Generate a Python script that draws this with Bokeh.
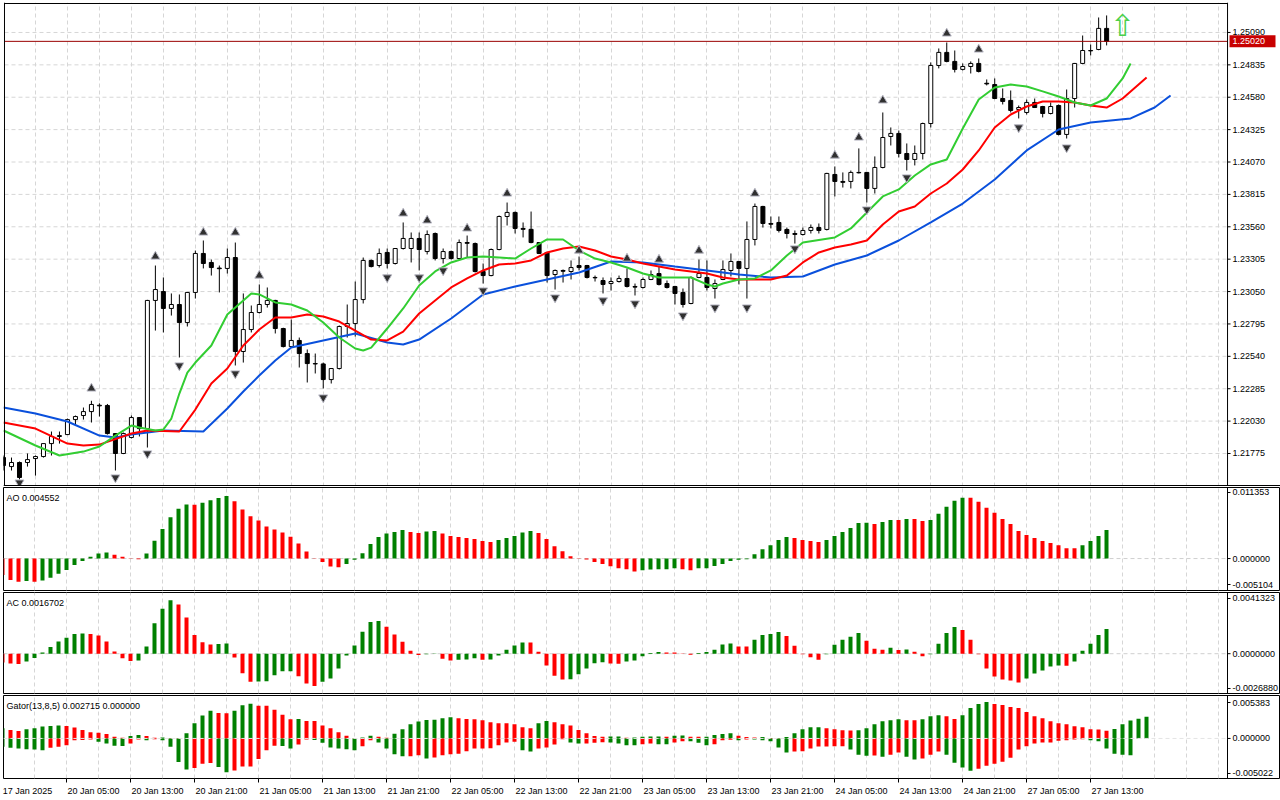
from bokeh.plotting import figure
from bokeh.models import Range1d, FixedTicker, Span, Label, ColumnDataSource, Grid
from bokeh.layouts import column
from bokeh.embed import file_html
from bokeh.resources import INLINE
from bokeh.core.properties import value

# ---------------- data (EURUSD H1) ----------------
opens = [
    1.21743, 1.21672, 1.21704, 1.21704, 1.21735, 1.21751, 1.21853, 1.21909, 1.21924, 1.22042,
    1.22074, 1.22105, 1.22155, 1.22153, 1.21932, 1.21775, 1.21901, 1.22058, 1.21971, 1.22980,
    1.23050, 1.22917, 1.22948, 1.22806, 1.23043, 1.23350, 1.23279, 1.23235, 1.23232, 1.23318,
    1.22578, 1.22751, 1.22885, 1.22948, 1.22980, 1.22759, 1.22617, 1.22665, 1.22562, 1.22483,
    1.22480, 1.22357, 1.22444, 1.22775, 1.22798, 1.22987, 1.23295, 1.23255, 1.23358, 1.23271,
    1.23389, 1.23389, 1.23468, 1.23365, 1.23507, 1.23310, 1.23365, 1.23310, 1.23436, 1.23428,
    1.23208, 1.23176, 1.23381, 1.23641, 1.23673, 1.23547, 1.23540, 1.23436, 1.23358, 1.23184,
    1.23216, 1.23208, 1.23255, 1.23255, 1.23161, 1.23137, 1.23113, 1.23129, 1.23153, 1.23090,
    1.23082, 1.23145, 1.23192, 1.23113, 1.23090, 1.23043, 1.22956, 1.23161, 1.23161, 1.23074,
    1.23145, 1.23216, 1.23287, 1.23232, 1.23460, 1.23720, 1.23586, 1.23594, 1.23539, 1.23507,
    1.23499, 1.23531, 1.23554, 1.23539, 1.23972, 1.23917, 1.23917, 1.23988, 1.23988, 1.23862,
    1.24027, 1.24271, 1.24295, 1.24137, 1.24090, 1.24137, 1.24373, 1.24830, 1.24933, 1.24862,
    1.24799, 1.24822, 1.24846, 1.24690, 1.24680, 1.24570, 1.24555, 1.24484, 1.24460, 1.24539,
    1.24507, 1.24452, 1.24515, 1.24287, 1.24570, 1.24846, 1.24948, 1.24956, 1.25122]
highs = [
    1.21759, 1.21743, 1.21712, 1.21775, 1.21759, 1.21853, 1.21948, 1.21948, 1.22050, 1.22074,
    1.22137, 1.22190, 1.22170, 1.22165, 1.21935, 1.21940, 1.22074, 1.22062, 1.22985, 1.23255,
    1.23161, 1.23035, 1.23027, 1.23045, 1.23373, 1.23452, 1.23302, 1.23255, 1.23389, 1.23436,
    1.23035, 1.22940, 1.23106, 1.23082, 1.22985, 1.22765, 1.22830, 1.22688, 1.22594, 1.22562,
    1.22491, 1.22444, 1.22783, 1.22948, 1.23129, 1.23318, 1.23302, 1.23389, 1.23389, 1.23389,
    1.23594, 1.23515, 1.23515, 1.23531, 1.23515, 1.23389, 1.23373, 1.23460, 1.23491, 1.23436,
    1.23271, 1.23389, 1.23649, 1.23751, 1.23680, 1.23594, 1.23680, 1.23440, 1.23362, 1.23224,
    1.23224, 1.23295, 1.23326, 1.23260, 1.23176, 1.23161, 1.23161, 1.23176, 1.23232, 1.23113,
    1.23161, 1.23216, 1.23247, 1.23137, 1.23095, 1.23074, 1.23169, 1.23302, 1.23295, 1.23145,
    1.23295, 1.23350, 1.23290, 1.23602, 1.23743, 1.23725, 1.23641, 1.23641, 1.23554, 1.23531,
    1.23554, 1.23578, 1.23586, 1.23985, 1.24035, 1.23988, 1.24003, 1.24177, 1.23992, 1.24114,
    1.24460, 1.24342, 1.24318, 1.24216, 1.24200, 1.24380, 1.24854, 1.24964, 1.25011, 1.24948,
    1.24846, 1.24862, 1.24885, 1.24720, 1.24728, 1.24649, 1.24633, 1.24515, 1.24562, 1.24570,
    1.24512, 1.24539, 1.24523, 1.24641, 1.24850, 1.25066, 1.24995, 1.25208, 1.25224]
lows = [
    1.21641, 1.21641, 1.21570, 1.21672, 1.21601, 1.21743, 1.21759, 1.21853, 1.21920, 1.22003,
    1.22042, 1.22019, 1.22066, 1.21924, 1.21641, 1.21770, 1.21893, 1.21909, 1.21822, 1.22743,
    1.22728, 1.22861, 1.22531, 1.22775, 1.22995, 1.23232, 1.23176, 1.23043, 1.23192, 1.22468,
    1.22491, 1.22728, 1.22877, 1.22924, 1.22720, 1.22610, 1.22609, 1.22452, 1.22334, 1.22405,
    1.22287, 1.22326, 1.22436, 1.22688, 1.22696, 1.22956, 1.23240, 1.23239, 1.23232, 1.23263,
    1.23381, 1.23279, 1.23216, 1.23342, 1.23295, 1.23271, 1.23302, 1.23305, 1.23318, 1.23200,
    1.23113, 1.23170, 1.23375, 1.23570, 1.23507, 1.23476, 1.23430, 1.23345, 1.23121, 1.23066,
    1.23121, 1.23145, 1.23216, 1.23153, 1.23129, 1.23035, 1.23058, 1.23121, 1.23082, 1.23019,
    1.23074, 1.23140, 1.23098, 1.23074, 1.22948, 1.22924, 1.22950, 1.23155, 1.23058, 1.22995,
    1.23140, 1.23169, 1.23106, 1.22995, 1.23413, 1.23554, 1.23547, 1.23515, 1.23468, 1.23428,
    1.23491, 1.23507, 1.23507, 1.23531, 1.23799, 1.23869, 1.23862, 1.23980, 1.23751, 1.23822,
    1.24020, 1.24200, 1.24106, 1.24003, 1.24043, 1.24090, 1.24342, 1.24807, 1.24855, 1.24775,
    1.24791, 1.24767, 1.24775, 1.24673, 1.24565, 1.24523, 1.24460, 1.24413, 1.24444, 1.24495,
    1.24421, 1.24445, 1.24280, 1.24255, 1.24499, 1.24840, 1.24909, 1.24950, 1.24988]
closes = [
    1.21680, 1.21704, 1.21586, 1.21727, 1.21751, 1.21853, 1.21909, 1.21916, 1.22042, 1.22066,
    1.22105, 1.22161, 1.22150, 1.21932, 1.21775, 1.21932, 1.22058, 1.21971, 1.22980, 1.23066,
    1.22917, 1.22948, 1.22806, 1.23043, 1.23350, 1.23271, 1.23239, 1.23230, 1.23318, 1.22578,
    1.22751, 1.22885, 1.22948, 1.22980, 1.22759, 1.22617, 1.22665, 1.22562, 1.22483, 1.22480,
    1.22357, 1.22444, 1.22775, 1.22798, 1.22987, 1.23295, 1.23247, 1.23350, 1.23271, 1.23389,
    1.23468, 1.23468, 1.23381, 1.23499, 1.23310, 1.23365, 1.23310, 1.23436, 1.23430, 1.23208,
    1.23176, 1.23381, 1.23641, 1.23673, 1.23547, 1.23540, 1.23436, 1.23350, 1.23176, 1.23216,
    1.23210, 1.23239, 1.23239, 1.23161, 1.23158, 1.23106, 1.23129, 1.23153, 1.23090, 1.23085,
    1.23145, 1.23184, 1.23106, 1.23082, 1.23035, 1.22948, 1.23161, 1.23192, 1.23082, 1.23113,
    1.23224, 1.23287, 1.23232, 1.23460, 1.23720, 1.23586, 1.23580, 1.23531, 1.23507, 1.23500,
    1.23531, 1.23554, 1.23531, 1.23980, 1.23917, 1.23910, 1.23988, 1.23985, 1.23862, 1.24027,
    1.24263, 1.24295, 1.24137, 1.24090, 1.24137, 1.24373, 1.24830, 1.24933, 1.24862, 1.24799,
    1.24822, 1.24846, 1.24783, 1.24685, 1.24570, 1.24547, 1.24476, 1.24499, 1.24539, 1.24499,
    1.24452, 1.24507, 1.24287, 1.24570, 1.24846, 1.24948, 1.24945, 1.25122, 1.25020]

# Alligator (shifted lines, bar index -> price)
jaw_x = [0, 4, 8, 12, 14, 16, 20, 25, 28, 30, 32, 34, 36, 40, 44, 48, 50, 52, 56, 60,
         64, 68, 72, 76, 80, 84, 88, 92, 96, 100, 104, 108, 112, 116, 120, 124, 128, 132, 136, 141,
         144, 146]
jaw_y = [1.22137, 1.22090, 1.22027, 1.21916, 1.21901, 1.21924, 1.21956, 1.21948, 1.22129, 1.22263,
         1.22389, 1.22507, 1.22609, 1.22665, 1.22720, 1.22649, 1.22633, 1.22672, 1.22838, 1.23027,
         1.23090, 1.23145, 1.23200, 1.23287, 1.23279, 1.23247, 1.23216, 1.23184, 1.23161, 1.23169,
         1.23263, 1.23334, 1.23452, 1.23594, 1.23743, 1.23932, 1.24161, 1.24326, 1.24381, 1.24413,
         1.24499, 1.24594]
teeth_x = [0, 4, 8, 10, 12, 16, 18, 22, 24, 26, 28, 30, 32, 34, 36, 38, 40, 42, 44, 46,
           48, 50, 52, 54, 56, 58, 60, 62, 64, 66, 68, 70, 72, 74, 76, 78, 80, 84, 88, 90,
           92, 96, 98, 100, 102, 104, 106, 108, 110, 112, 114, 116, 118, 120, 122, 124, 126, 128, 130, 132,
           134, 136, 138, 140, 143]
teeth_y = [1.22019, 1.21971, 1.21853, 1.21838, 1.21845, 1.21932, 1.21956, 1.21948, 1.22121, 1.22326,
           1.22444, 1.22625, 1.22751, 1.22846, 1.22846, 1.22869, 1.22854, 1.22814, 1.22743, 1.22672,
           1.22665, 1.22735, 1.22877, 1.22980, 1.23082, 1.23153, 1.23216, 1.23263, 1.23271, 1.23295,
           1.23358, 1.23389, 1.23405, 1.23373, 1.23326, 1.23302, 1.23271, 1.23224, 1.23192, 1.23161,
           1.23145, 1.23145, 1.23176, 1.23279, 1.23358, 1.23397, 1.23420, 1.23452, 1.23578, 1.23680,
           1.23720, 1.23822, 1.23901, 1.24011, 1.24161, 1.24342, 1.24444, 1.24507, 1.24547, 1.24547,
           1.24539, 1.24515, 1.24499, 1.24570, 1.24736]
lips_x = [0, 4, 7, 10, 12, 14, 16, 17, 19, 20, 21, 22, 23, 24, 26, 28, 30, 31, 32, 34,
          36, 38, 40, 42, 44, 45, 46, 48, 50, 52, 54, 56, 58, 60, 62, 64, 66, 68, 70, 72,
          74, 76, 78, 80, 82, 86, 88, 89, 90, 92, 94, 96, 98, 100, 104, 106, 108, 110, 112, 114,
          116, 118, 120, 122, 124, 126, 128, 130, 132, 134, 136, 138, 140, 141]
lips_y = [1.21956, 1.21838, 1.21759, 1.21790, 1.21830, 1.21916, 1.21995, 1.21979, 1.21956, 1.21964,
          1.22050, 1.22247, 1.22412, 1.22491, 1.22625, 1.22869, 1.22980, 1.23035, 1.23027, 1.22964,
          1.22948, 1.22901, 1.22806, 1.22688, 1.22602, 1.22586, 1.22609, 1.22759, 1.22917, 1.23098,
          1.23208, 1.23279, 1.23318, 1.23326, 1.23318, 1.23310, 1.23389, 1.23460, 1.23460, 1.23373,
          1.23310, 1.23279, 1.23239, 1.23192, 1.23161, 1.23161, 1.23106, 1.23090, 1.23113, 1.23145,
          1.23153, 1.23216, 1.23334, 1.23436, 1.23476, 1.23547, 1.23673, 1.23799, 1.23854, 1.23964,
          1.24051, 1.24090, 1.24334, 1.24562, 1.24657, 1.24680, 1.24665, 1.24626, 1.24586, 1.24539,
          1.24515, 1.24570, 1.24728, 1.24846]

# Fractals
up_bars = [11, 19, 25, 29, 32, 50, 53, 58, 63, 72, 78, 82, 87, 94, 104, 107, 110, 118, 122]
up_marks = [1.22287, 1.23326, 1.23515, 1.23515, 1.23176, 1.23665, 1.23610, 1.23547, 1.23822, 1.23373,
            1.23310, 1.23302, 1.23373, 1.23822, 1.24121, 1.24263, 1.24555, 1.25082, 1.24956]
dn_bars = [2, 14, 18, 22, 29, 40, 48, 52, 55, 60, 69, 75, 79, 85, 89, 93, 99, 108, 113, 127, 133]
dn_marks = [1.21546, 1.21586, 1.21775, 1.22468, 1.22405, 1.22216, 1.23161, 1.23161, 1.23216, 1.23058,
            1.23003, 1.22980, 1.22956, 1.22861, 1.22924, 1.22924, 1.23389, 1.23696, 1.23948, 1.24342,
            1.24184]
signal_bar = [140]
signal_price = [1.25145]

# Awesome Oscillator
ao = [
    -0.002629, -0.003436, -0.003710, -0.003597, -0.003710, -0.003500, -0.003065, -0.002420, -0.001823, -0.001016,
    -0.000371, 0.000274, 0.000807, 0.000968, 0.000597, 0.000274, 0.000048, -0.000113, 0.000807, 0.002855,
    0.004726, 0.006613, 0.007952, 0.008630, 0.008581, 0.008920, 0.009307, 0.009678, 0.010001, 0.009146,
    0.007855, 0.006775, 0.006081, 0.005113, 0.004629, 0.004145, 0.003500, 0.002420, 0.001129, 0.000048,
    -0.000565, -0.001258, -0.001403, -0.000855, -0.000210, 0.000855, 0.002307, 0.003436, 0.003984, 0.004242,
    0.004565, 0.004242, 0.004081, 0.004307, 0.004403, 0.003984, 0.003597, 0.003436, 0.003274, 0.003113,
    0.002790, 0.002629, 0.002952, 0.003274, 0.003597, 0.004145, 0.004403, 0.004081, 0.003113, 0.001984,
    0.001177, 0.000371, 0.000032, -0.000161, -0.000532, -0.000855, -0.001242, -0.001565, -0.001726, -0.002049,
    -0.001887, -0.001758, -0.001726, -0.001694, -0.001565, -0.001726, -0.001887, -0.001565, -0.001548, -0.001177,
    -0.000855, -0.000371, -0.000210, -0.000097, 0.000694, 0.001500, 0.002145, 0.002952, 0.003436, 0.003274,
    0.002952, 0.002790, 0.002629, 0.002952, 0.003597, 0.004242, 0.004887, 0.005694, 0.005710, 0.005533,
    0.005855, 0.006178, 0.006162, 0.006339, 0.006323, 0.006016, 0.006178, 0.007146, 0.008275, 0.009242,
    0.009726, 0.009710, 0.009081, 0.008113, 0.007307, 0.006339, 0.005533, 0.004403, 0.003758, 0.003274,
    0.002790, 0.002468, 0.002145, 0.001661, 0.001645, 0.002145, 0.002790, 0.003597, 0.004552]
ao_max, ao_min = 0.011353, -0.005104

# Accelerator Oscillator
ac = [
    -0.000601, -0.000668, -0.000701, -0.000534, -0.000287, 0.000087, 0.000448, 0.000828, 0.001069, 0.001336,
    0.001356, 0.001329, 0.001222, 0.000828, 0.000140, -0.000307, -0.000488, -0.000461, 0.000481, 0.002057,
    0.003033, 0.003601, 0.003327, 0.002452, 0.001269, 0.000775, 0.000621, 0.000648, 0.000695, -0.000261,
    -0.001329, -0.001897, -0.001870, -0.001864, -0.001450, -0.001189, -0.001182, -0.001523, -0.002017, -0.002178,
    -0.001890, -0.001670, -0.001002, -0.000114, 0.000554, 0.001490, 0.002138, 0.002204, 0.001824, 0.001289,
    0.000802, 0.000200, -0.000087, -0.000033, -0.000020, -0.000334, -0.000468, -0.000401, -0.000394, -0.000314,
    -0.000401, -0.000394, -0.000114, 0.000267, 0.000554, 0.000755, 0.000748, 0.000134, -0.000802, -0.001490,
    -0.001737, -0.001730, -0.001383, -0.001002, -0.000648, -0.000581, -0.000668, -0.000675, -0.000534, -0.000468,
    -0.000180, 0.000047, 0.000114, 0.000087, 0.000080, 0.000013, -0.000067, 0.000047, 0.000114, 0.000267,
    0.000621, 0.000681, 0.000488, 0.000481, 0.000935, 0.001269, 0.001336, 0.001470, 0.001202, 0.000534,
    -0.000033, -0.000247, -0.000401, -0.000033, 0.000601, 0.000935, 0.001136, 0.001403, 0.000868, 0.000334,
    0.000267, 0.000401, 0.000254, 0.000281, 0.000134, -0.000180, -0.000033, 0.000668, 0.001403, 0.001804,
    0.001603, 0.000935, -0.000033, -0.001002, -0.001536, -0.001737, -0.001804, -0.001937, -0.001670, -0.001336,
    -0.001136, -0.000868, -0.000802, -0.000808, -0.000534, 0.000200, 0.000668, 0.001269, 0.0016702]
ac_max, ac_min = 0.0041323, -0.0026880

# Gator oscillator (upper = |jaw-teeth|, lower = -|teeth-lips|)
gator_up = [
    0.001270, 0.001054, 0.000927, 0.001143, 0.001270, 0.001486, 0.001562, 0.001613, 0.001562, 0.001359,
    0.001054, 0.000762, 0.000724, 0.000546, 0.000216, 0.000089, 0.000292, 0.000419, 0.000292, 0.000089,
    0.000127, 0.000038, 0.000013, 0.000635, 0.001905, 0.002883, 0.003467, 0.003175, 0.003162, 0.003467,
    0.004153, 0.004356, 0.004102, 0.004089, 0.003594, 0.002959, 0.002413, 0.002426, 0.002197, 0.002184,
    0.001613, 0.001270, 0.000762, 0.000343, 0.000025, 0.000127, 0.000343, 0.000216, 0.000089, 0.000597,
    0.001143, 0.001778, 0.002121, 0.002324, 0.002337, 0.002540, 0.002667, 0.002540, 0.002451, 0.002413,
    0.002286, 0.002032, 0.001905, 0.001892, 0.001778, 0.001397, 0.001270, 0.001905, 0.002197, 0.002032,
    0.001778, 0.001613, 0.001054, 0.000635, 0.000292, 0.000216, 0.000229, 0.000254, 0.000089, 0.000127,
    0.000216, 0.000229, 0.000241, 0.000216, 0.000343, 0.000356, 0.000216, 0.000203, 0.000216, 0.000419,
    0.000546, 0.000635, 0.000343, 0.000165, 0.000127, 0.000165, 0.000064, 0.000038, 0.000191, 0.000635,
    0.001143, 0.001397, 0.001410, 0.001270, 0.001143, 0.001016, 0.001003, 0.001016, 0.001270, 0.001778,
    0.002159, 0.002286, 0.002413, 0.002286, 0.002273, 0.002413, 0.002794, 0.002921, 0.002794, 0.002451,
    0.002921, 0.003810, 0.004318, 0.004572, 0.004318, 0.004191, 0.003937, 0.003810, 0.003302, 0.002794,
    0.002540, 0.002159, 0.001905, 0.001778, 0.001524, 0.001397, 0.001143, 0.001130, 0.000978, 0.001181,
    0.001778, 0.002248, 0.002477, 0.002715]
gator_low = [
    -0.001054, -0.001181, -0.001270, -0.001359, -0.001372, -0.001486, -0.001181, -0.001054, -0.000851, -0.000216,
    -0.000191, -0.000127, -0.000419, -0.000635, -0.000927, -0.000953, -0.000635, -0.000127, -0.000216, -0.000089,
    -0.000216, -0.001054, -0.002959, -0.003899, -0.003721, -0.003175, -0.003086, -0.003594, -0.004229, -0.004026,
    -0.003518, -0.003505, -0.002578, -0.001486, -0.000927, -0.000940, -0.001270, -0.000762, -0.000127, -0.000191,
    -0.000546, -0.001143, -0.001270, -0.001359, -0.001486, -0.000978, -0.000216, -0.000508, -0.001270, -0.001994,
    -0.002248, -0.002235, -0.002121, -0.002502, -0.002375, -0.002121, -0.001994, -0.001905, -0.001613, -0.001270,
    -0.001257, -0.001245, -0.000851, -0.000508, -0.000419, -0.001486, -0.001651, -0.001270, -0.001143, -0.000762,
    -0.000089, -0.000508, -0.000635, -0.000622, -0.000533, -0.000470, -0.000508, -0.000635, -0.000851, -0.000864,
    -0.000724, -0.000635, -0.000724, -0.000737, -0.000508, -0.000343, -0.000356, -0.000546, -0.000851, -0.000724,
    -0.000216, -0.000152, -0.000216, -0.000127, -0.000140, -0.000216, -0.000343, -0.001143, -0.001778, -0.001651,
    -0.001613, -0.001270, -0.001016, -0.001003, -0.000991, -0.000978, -0.001397, -0.002032, -0.002159, -0.002146,
    -0.002286, -0.002032, -0.001778, -0.002286, -0.002629, -0.002502, -0.002032, -0.001651, -0.002032, -0.003048,
    -0.003645, -0.004064, -0.003810, -0.003429, -0.003175, -0.002921, -0.002413, -0.001397, -0.000978, -0.000635,
    -0.000508, -0.000495, -0.000292, -0.000216, -0.000127, -0.000114, -0.000216, -0.000343, -0.001270, -0.001905,
    -0.002032, -0.002121]
gator_low_last = 0.0
gator_max, gator_min = 0.005383, -0.005022

price_ticks = [1.21775, 1.22030, 1.22285, 1.22540, 1.22795, 1.23050, 1.23305,
               1.23560, 1.23815, 1.24070, 1.24325, 1.24580, 1.24835, 1.25090]
time_tick_bars = [0, 8, 16, 24, 32, 40, 48, 56, 64, 72, 80, 88, 96, 104, 112, 120, 128, 136]
time_labels = ["17 Jan 2025", "20 Jan 05:00", "20 Jan 13:00", "20 Jan 21:00", "21 Jan 05:00",
               "21 Jan 13:00", "21 Jan 21:00", "22 Jan 05:00", "22 Jan 13:00", "22 Jan 21:00",
               "23 Jan 05:00", "23 Jan 13:00", "23 Jan 21:00", "24 Jan 05:00", "24 Jan 13:00",
               "24 Jan 21:00", "27 Jan 05:00", "27 Jan 13:00"]

# ---------------- styling / geometry ----------------
FONT = "Liberation Sans"
GRID = "#d6d6d6"
GREEN = "#008000"
RED = "#ff0000"
PX = 1.0 / 8.0               # one screen pixel in bar units (8 px per bar)
X0 = 0.125                   # left edge of the chart area
PLOT_R = 153.125             # right edge of the chart area (price scale starts here)
X1 = X0 + 1277 * PX          # right edge of the canvas
LABEL_X = PLOT_R + 5 * PX
TICK_X = PLOT_R + 3 * PX
xr = Range1d(X0, X1)
grid_ticks = list(range(0, 153, 4))


def style_fig(p):
    p.background_fill_color = "white"
    p.border_fill_color = "white"
    p.xgrid.visible = False
    p.ygrid.visible = False
    p.add_layout(Grid(dimension=0, ticker=FixedTicker(ticks=grid_ticks),
                      grid_line_color=GRID, grid_line_dash="4 3"))
    p.add_layout(Span(location=PLOT_R, dimension="height", line_color="black", line_width=1))


def make_fig(height, y0, y1, top, bottom, xaxis=False):
    p = figure(width=1280, height=height, x_range=xr, y_range=Range1d(y0, y1),
               output_backend="svg", toolbar_location=None,
               x_axis_location=("below" if xaxis else None), y_axis_location=None,
               min_border_left=3, min_border_right=0, min_border_top=top,
               min_border_bottom=bottom)
    p.outline_line_color = "black"
    p.outline_line_width = 1
    style_fig(p)
    return p


def price_scale(p, ticks, labels):
    k = len(ticks)
    p.segment(x0=[PLOT_R] * k, y0=ticks, x1=[TICK_X] * k, y1=ticks,
              line_color="black", line_width=1)
    p.text(x=[LABEL_X] * k, y=ticks, text=labels, text_font=value(FONT),
           text_font_size=value("9px"), text_color="black",
           text_align="left", text_baseline="middle")


def hline(p, y, color, dash=None, width=1, x1=PLOT_R):
    kw = dict(line_color=color, line_width=width)
    if dash:
        kw["line_dash"] = dash
    p.segment(x0=[X0], y0=[y], x1=[x1], y1=[y], **kw)


def updown(vals, first_up):
    cols = []
    for i, v in enumerate(vals):
        if i == 0:
            cols.append(GREEN if first_up else RED)
        else:
            cols.append(GREEN if v > vals[i - 1] else RED)
    return cols


def panel_label(p, frame_h, text):
    p.add_layout(Label(x=3, y=frame_h - 5, x_units="screen", y_units="screen", text=text,
                       text_font=FONT, text_font_size="9px", text_color="black",
                       text_baseline="top", text_align="left"))


# ---------------- main price panel ----------------
# frame spans y 2..486 and x 2..1280 so that its border lines (y 3, y 485, x 3) sit inside it
P_TOP, P_BOT = 1.25318, 1.21523          # prices at the chart border lines
P_PIX = (P_TOP - P_BOT) / 482.0          # price per screen pixel
n = len(closes)
bars = list(range(n))
pm = figure(width=1280, height=486, x_range=Range1d(X0 - PX, X1),
            y_range=Range1d(P_BOT - P_PIX, P_TOP + P_PIX),
            output_backend="svg", toolbar_location=None,
            x_axis_location=None, y_axis_location=None,
            min_border_left=2, min_border_right=0, min_border_top=2, min_border_bottom=0)
pm.outline_line_color = None
style_fig(pm)
pm.add_layout(Span(location=X0, dimension="height", line_color="black", line_width=1))
hline(pm, P_TOP, "black")
pm.add_layout(Span(location=P_BOT, dimension="width", line_color="black", line_width=1))

k = len(price_ticks)
pm.segment(x0=[X0] * k, y0=price_ticks, x1=[PLOT_R] * k, y1=price_ticks,
           line_color=GRID, line_dash="4 3")

csrc = ColumnDataSource(dict(
    x=bars, high=highs, low=lows,
    top=[max(o, c) for o, c in zip(opens, closes)],
    bottom=[min(o, c) for o, c in zip(opens, closes)],
    fill=["white" if c >= o else "black" for o, c in zip(opens, closes)]))
pm.segment(x0="x", y0="high", x1="x", y1="low", source=csrc, line_color="black", line_width=1)
pm.vbar(x="x", width=0.5, top="top", bottom="bottom", source=csrc,
        fill_color="fill", line_color="black", line_width=1)

pm.line(jaw_x, jaw_y, line_color="#0a50dc", line_width=2)
pm.line(teeth_x, teeth_y, line_color="#ff0000", line_width=2)
pm.line(lips_x, lips_y, line_color="#32cd32", line_width=2)

pm.scatter(up_bars, up_marks, marker="triangle", size=9,
           fill_color="#303030", line_color="#b8b8c4", line_width=1)
pm.scatter(dn_bars, dn_marks, marker="inverted_triangle", size=9,
           fill_color="#303030", line_color="#b8b8c4", line_width=1)

pm.text(x=signal_bar, y=signal_price, text=["\u21e7"], text_font=value("DejaVu Sans"),
        text_font_size=value("30px"), text_color="#4cd04c",
        text_align="center", text_baseline="middle")

last = closes[-1]
hline(pm, last, "#9a0000")
price_scale(pm, price_ticks, [f"{t:.5f}" for t in price_ticks])
# current price tag on the price scale
pm.rect(x=[PLOT_R + 25 * PX], y=[last], width=46 * PX, height=12, height_units="screen",
        fill_color="#c80000", line_color=None)
pm.text(x=[LABEL_X], y=[last], text=[f"{last:.5f}"], text_font=value(FONT),
        text_font_size=value("9px"), text_color="white",
        text_align="left", text_baseline="middle")

# ---------------- indicator panels ----------------
# AO: frame 487..590
pa = make_fig(105, ao_min, ao_max, 1, 1)
hline(pa, 0.0, "#cfcfcf", "4 3")
pa.vbar(x=bars, width=0.5, top=ao, bottom=0, fill_color=updown(ao, False), line_color=None)
price_scale(pa, [0.010555, 0.0, -0.004147],
            [f"{ao_max:.6f}", f"{0:.6f}", f"{ao_min:.6f}"])
panel_label(pa, 103, f"AO {ao[-1]:.6f}")

# AC: frame 592..693
pc = make_fig(103, ac_min, ac_max, 1, 1)
hline(pc, 0.0, "#cfcfcf", "4 3")
pc.vbar(x=bars, width=0.5, top=ac, bottom=0, fill_color=updown(ac, False), line_color=None)
price_scale(pc, [0.003728, 0.0, -0.002350],
            [f"{ac_max:.7f}", f"{0:.7f}", f"{ac_min:.7f}"])
panel_label(pc, 101, f"AC {ac[-1]:.7f}")

# Gator: frame 695..778
pg = make_fig(106, gator_min, gator_max, 1, 22, xaxis=True)
gu_x = list(range(len(gator_up)))
gl_x = list(range(len(gator_low)))
pg.vbar(x=gu_x, width=0.5, top=gator_up, bottom=0, fill_color=updown(gator_up, True),
        line_color=None)
gl_mag = [abs(v) for v in gator_low]
pg.vbar(x=gl_x, width=0.5, top=0, bottom=gator_low, fill_color=updown(gl_mag, True),
        line_color=None)
hline(pg, 0.0, "#e4e4e4", "4 3")
price_scale(pg, [0.004505, 0.0, -0.004395],
            [f"{gator_max:.6f}", f"{0:.6f}", f"{gator_min:.6f}"])
panel_label(pg, 83, f"Gator(13,8,5) {gator_up[-1]:.6f} {gator_low_last:.6f}")

# time axis: labels start just right of their tick (tick marks drawn as minor ticks)
label_pos = [t + (1 + 4.35 * len(s) / 2) * PX for t, s in zip(time_tick_bars, time_labels)]
xa = pg.xaxis[0]
xa.ticker = FixedTicker(ticks=label_pos, minor_ticks=time_tick_bars)
xa.major_label_overrides = {pos: s for pos, s in zip(label_pos, time_labels)}
xa.major_label_text_font = FONT
xa.major_label_text_font_size = "9px"
xa.major_label_text_color = "black"
xa.major_label_standoff = 3
xa.major_tick_out = 0
xa.major_tick_in = 0
xa.minor_tick_out = 4
xa.minor_tick_in = 0
xa.minor_tick_line_color = "black"
xa.axis_line_color = None

layout = column(pm, pa, pc, pg, spacing=0)

open("out.html", "w").write(file_html(layout, INLINE))
